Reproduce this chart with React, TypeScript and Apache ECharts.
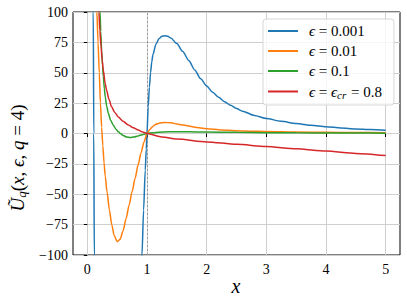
import React, { useEffect, useRef } from "react";
import * as echarts from "echarts";

const FONT = "Liberation Serif";

const X_TICKS = [0, 1, 2, 3, 4, 5];

const SERIES_NAMES = ["ϵ = 0.001", "ϵ = 0.01", "ϵ = 0.1", "ϵ = ϵcr = 0.8"];
const LEGEND_RICH = [
  "{i|ϵ}{n| = 0.001}",
  "{i|ϵ}{n| = 0.01}",
  "{i|ϵ}{n| = 0.1}",
  "{i|ϵ}{n| = }{i|ϵ}{s|cr}{n| = 0.8}",
];
const COLORS = ["#1f77b4", "#ff7f0e", "#2ca02c", "#d62728"];

// ε = 0.001
const X_BLUE = [0.09, 0.1, 0.108, 0.117, 0.125, 0.8, 0.85, 0.88, 0.9, 0.916, 0.943, 0.971, 0.988, 1.0, 1.02, 1.04, 1.06, 1.08, 1.1, 1.15, 1.2, 1.25, 1.3, 1.35, 1.4, 1.5, 1.6, 1.7, 1.8, 1.9, 2.0, 2.1, 2.2, 2.3, 2.4, 2.5, 2.6, 2.8, 3.0, 3.25, 3.5, 3.75, 4.0, 4.25, 4.5, 4.75, 5.0];
const Y_BLUE = [300, 100, 0, -100, -300, -320, -220, -165, -130, -100, -63, -30, -13, 0, 22, 38, 50, 59, 65, 73.5, 78, 80, 80.5, 80, 78.5, 74, 67.5, 60, 52.3, 45, 39, 34, 29.8, 26.2, 23.2, 20.6, 18.4, 14.9, 12.4, 10, 8.2, 6.8, 5.6, 4.6, 3.8, 3.2, 2.6];

// ε = 0.01
const X_ORANGE = [0.15, 0.16, 0.18, 0.2, 0.22, 0.24, 0.26, 0.28, 0.3, 0.33, 0.37, 0.41, 0.45, 0.5, 0.55, 0.6, 0.65, 0.7, 0.75, 0.8, 0.85, 0.9, 0.95, 1.0, 1.05, 1.1, 1.15, 1.2, 1.3, 1.4, 1.5, 1.6, 1.8, 2.0, 2.25, 2.5, 2.75, 3.0, 3.5, 4.0, 4.5, 5.0];
const Y_ORANGE = [130, 100, 75, 50, 25, 5, -10, -24, -35, -48, -63, -75, -84, -89, -87, -80, -70, -59, -48, -37, -26, -16, -7, 0, 3.5, 6, 7.6, 8.5, 9.1, 8.8, 7.9, 7, 5.2, 3.9, 2.9, 2.3, 1.9, 1.6, 1.2, 1.0, 0.8, 0.7];

// ε = 0.1
const X_GREEN = [0.2, 0.213, 0.225, 0.24, 0.255, 0.268, 0.285, 0.3, 0.325, 0.352, 0.39, 0.436, 0.48, 0.519, 0.56, 0.6, 0.66, 0.72, 0.78, 0.85, 0.92, 1.0, 1.1, 1.2, 1.35, 1.5, 1.7, 2.0, 2.5, 3.0, 3.5, 4.0, 4.5, 5.0];
const Y_GREEN = [115, 100, 84, 68, 56, 47, 37, 30, 22.5, 16.6, 11, 6.8, 3.5, 1.5, -0.2, -1.6, -2.9, -3.2, -2.8, -2, -1, 0, 0.7, 1.1, 1.35, 1.45, 1.4, 1.25, 0.95, 0.72, 0.55, 0.43, 0.35, 0.28];

// ε = ε_cr = 0.8
const X_RED = [0.18, 0.194, 0.21, 0.229, 0.25, 0.268, 0.3, 0.324, 0.36, 0.407, 0.46, 0.519, 0.6, 0.687, 0.77, 0.854, 0.93, 1.0, 1.25, 1.5, 2.0, 2.5, 3.0, 3.5, 4.0, 4.5, 5.0];
const Y_RED = [116, 100, 85, 72, 60, 52, 41, 35.5, 28.5, 22, 17.3, 13.6, 10, 7, 4.7, 2.8, 1.2, 0, -2.8, -4.5, -6.9, -8.9, -10.7, -12.6, -14.5, -16.4, -18.2];

const SERIES_X = [X_BLUE, X_ORANGE, X_GREEN, X_RED];
const SERIES_Y = [Y_BLUE, Y_ORANGE, Y_GREEN, Y_RED];

const fmtNum = (v: number) => (v < 0 ? "\u2212" + String(-v) : String(v));

export default function App() {
  const ref = useRef<HTMLDivElement>(null);
  useEffect(() => {
    if (!ref.current) return;
    const chart = echarts.init(ref.current, null, { renderer: "svg" });
    const richLegend = {
      i: { fontFamily: FONT, fontStyle: "italic", fontSize: 15, lineHeight: 16, color: "#000" },
      n: { fontFamily: FONT, fontSize: 15, lineHeight: 16, color: "#000" },
      s: { fontFamily: FONT, fontStyle: "italic", fontSize: 11, lineHeight: 16, padding: [6, 1, 0, 0], color: "#000" },
    };
    const richLabel = {
      i: { fontFamily: FONT, fontStyle: "italic", fontSize: 19, color: "#000" },
      n: { fontFamily: FONT, fontSize: 19, color: "#000" },
      s: { fontFamily: FONT, fontStyle: "italic", fontSize: 13, padding: [8, 0, 0, 0], color: "#000" },
    };
    const series: any[] = SERIES_NAMES.map((name, k) => ({
      name,
      type: "line",
      data: SERIES_X[k].map((x, j) => [x, SERIES_Y[k][j]]),
      showSymbol: false,
      symbol: "none",
      smooth: 0.25,
      smoothMonotone: "x",
      clip: true,
      lineStyle: { color: COLORS[k], width: 1.5 },
      itemStyle: { color: COLORS[k] },
      z: 3 + k,
    }));
    series[0].markLine = {
      silent: true,
      symbol: "none",
      label: { show: false },
      lineStyle: { color: "#9a9a9a", type: [2, 2], width: 1 },
      data: [{ xAxis: 1 }],
      z: 2,
    };
    chart.setOption({
      animation: false,
      textStyle: { fontFamily: FONT },
      grid: {
        left: 73,
        top: 12,
        right: 7,
        bottom: 48,
        show: true,
        borderColor: "#000",
        borderWidth: 1,
        backgroundColor: "#fff",
      },
      xAxis: {
        type: "value",
        min: -0.24,
        max: 5.24,
        axisLine: { show: false },
        axisTick: { show: true, length: 3.5, lineStyle: { color: "#000" }, customValues: X_TICKS },
        axisLabel: {
          customValues: X_TICKS,
          margin: 7,
          fontFamily: FONT,
          fontSize: 14,
          color: "#000",
          formatter: (v: number) => fmtNum(v),
        },
        splitLine: { show: true, lineStyle: { color: "#cfcfcf", width: 1 } },
      },
      yAxis: {
        type: "value",
        min: -100,
        max: 100,
        interval: 25,
        axisLine: { show: false },
        axisTick: { show: true, length: 3.5, lineStyle: { color: "#000" } },
        axisLabel: {
          margin: 5,
          fontFamily: FONT,
          fontSize: 14,
          color: "#000",
          formatter: (v: number) => fmtNum(v),
        },
        splitLine: { show: true, lineStyle: { color: "#cfcfcf", width: 1 } },
      },
      legend: {
        data: SERIES_NAMES,
        orient: "vertical",
        left: 263,
        top: 19,
        padding: [4, 12, 5, 5],
        itemGap: 4,
        itemWidth: 30,
        itemHeight: 2,
        icon: "rect",
        backgroundColor: "rgba(255,255,255,0.8)",
        borderColor: "#d6d6d6",
        borderWidth: 1,
        borderRadius: 3,
        textStyle: { fontFamily: FONT, fontSize: 15, lineHeight: 16, color: "#000", padding: [0, 0, 0, 6], rich: richLegend },
        formatter: (name: string) => LEGEND_RICH[SERIES_NAMES.indexOf(name)],
      },
      graphic: [
        {
          type: "text",
          x: 236,
          y: 286,
          style: {
            text: "x",
            fontFamily: FONT,
            fontStyle: "italic",
            fontSize: 20,
            fill: "#000",
            align: "center",
            verticalAlign: "middle",
          },
        },
        {
          type: "text",
          x: 17,
          y: 158,
          rotation: Math.PI / 2,
          style: {
            text: "{i|Ũ}{s|q}{n|(}{i|x}{n|, }{i|ϵ}{n|, }{i|q}{n| = 4)}",
            rich: richLabel,
            align: "center",
            verticalAlign: "middle",
            fill: "#000",
          },
        },
      ],
      series,
    });
    return () => chart.dispose();
  }, []);
  return (
    <div
      ref={ref}
      style={{ position: "fixed", left: 0, top: 0, width: 407, height: 303, background: "#fff" }}
    />
  );
}
